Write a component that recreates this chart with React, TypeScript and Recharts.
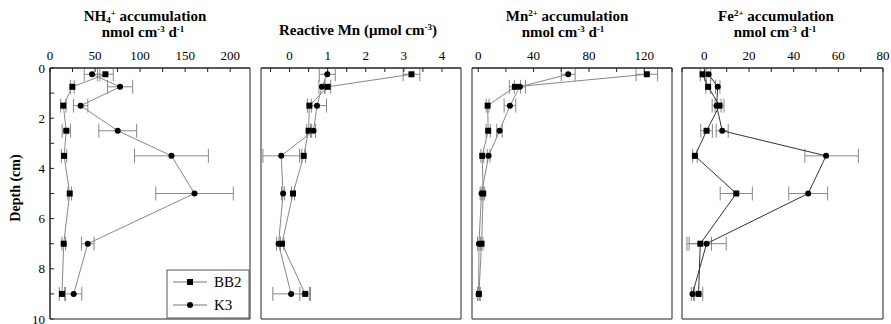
import React from 'react';
import { ScatterChart, Scatter, XAxis, YAxis, ErrorBar, ReferenceArea } from 'recharts';

// ---- data ----
const depths = [0.25, 0.75, 1.5, 2.5, 3.5, 5, 7, 9];
const seriesNames = ['BB2', 'K3'];

const nh4BB2 = [61.5, 24.8, 14.8, 18.1, 15.6, 21.9, 15.2, 13.3];
const nh4BB2Err = [8.7, 2, 3, 4.6, 3, 2, 2, 3];
const nh4K3 = [46.7, 77.8, 34, 75.2, 134.8, 160.4, 41.9, 26.3];
const nh4K3Err = [8.7, 14, 8, 21, 41, 43, 7, 9];

const mnRBB2 = [3.2, 1.0, 0.52, 0.5, 0.37, 0.09, -0.2, 0.41];
const mnRBB2Err = [0.22, 0.08, 0.05, 0.05, 0.05, 0.04, 0.05, 0.14];
const mnRK3 = [0.99, 0.85, 0.72, 0.63, -0.22, -0.17, -0.29, 0.04];
const mnRK3Err = [0.21, 0.08, 0.25, 0.05, 0.48, 0.04, 0.05, 0.48];

const mn2BB2 = [121.8, 26.5, 6.8, 7.2, 2.9, 3.6, 2.4, 0.5];
const mn2BB2Err = [7.8, 4, 1, 1.5, 1, 1, 1, 1];
const mn2K3 = [65, 30.1, 22.9, 15.4, 7.5, 2.4, 0.5, 0.3];
const mn2K3Err = [5, 4, 4.2, 2, 1, 1, 1, 0.5];

const fe2BB2 = [-0.8, 1.7, 6.8, 1.0, -4.2, 14.3, -1.8, -2.6];
const fe2BB2Err = [1, 1, 2, 2.6, 1, 7.2, 5, 1.9];
const fe2K3 = [1.9, 6.0, 5.5, 8.0, 54.5, 46.5, 1.0, -5.3];
const fe2K3Err: (number | number[])[] = [1, 1, 2, 2.7, [9.5, 14.5], 8.7, 8.8, 0.5];

// ticks
const depthTicks = [0, 1, 2, 3, 4, 5, 6, 7, 8, 9, 10];
const depthLabels = [0, 2, 4, 6, 8, 10];
const nh4Ticks = [0, 25, 50, 75, 100, 125, 150, 175, 200];
const nh4Labels = [0, 50, 100, 150, 200];
const mnRTicks = [-0.5, 0, 0.5, 1, 1.5, 2, 2.5, 3, 3.5, 4];
const mnRLabels = [0, 1, 2, 3, 4];
const mn2Ticks = [0, 20, 40, 60, 80, 100, 120, 140];
const mn2Labels = [0, 40, 80, 120];
const fe2Ticks = [-10, 0, 10, 20, 30, 40, 50, 60, 70, 80];
const fe2Labels = [0, 20, 40, 60, 80];

const W = 891;
const H = 324;
const FONT = '"Liberation Serif", "Times New Roman", serif';

const build = (vals: number[], errs: any[]) =>
  depths.map((d, i) => ({ depth: d, x: vals[i], err: errs[i] }));

const SquareShape = (props: any) => {
  const { cx, cy } = props;
  if (cx == null || cy == null) return null;
  return <rect x={cx - 3} y={cy - 3} width={6} height={6} fill="#000" />;
};
const CircleShape = (props: any) => {
  const { cx, cy } = props;
  if (cx == null || cy == null) return null;
  return <circle cx={cx} cy={cy} r={3} fill="#000" />;
};

type PanelProps = {
  left: number;
  right: number;
  domain: [number, number];
  ticks: number[];
  labels: number[];
  bb2: any[];
  k3: any[];
  showY: boolean;
  lineColor: string;
};

const Panel = ({ left, right, domain, ticks, labels, bb2, k3, showY, lineColor }: PanelProps) => {
  const yw = showY ? 20 : 0;
  return (
    <div style={{ position: 'absolute', left: 0, top: 0, fontFamily: FONT }}>
      <ScatterChart
        width={W}
        height={H}
        style={{ fontFamily: FONT }}
        margin={{ top: 48, bottom: 5, left: left - yw, right: W - right }}
      >
        <XAxis
          type="number"
          dataKey="x"
          orientation="top"
          height={20}
          domain={domain}
          allowDataOverflow
          ticks={ticks}
          interval={0}
          tickSize={-4}
          tickMargin={12}
          tickFormatter={(v: number) => (labels.includes(v) ? String(v) : '')}
          tick={{ fill: '#000', fontSize: 13, fontFamily: FONT }}
          axisLine={{ stroke: '#222' }}
          tickLine={{ stroke: '#222' }}
        />
        <YAxis
          type="number"
          dataKey="depth"
          reversed
          width={yw}
          domain={[0, 10]}
          allowDataOverflow
          ticks={depthTicks}
          interval={0}
          tickSize={-4}
          tickMargin={9}
          tickFormatter={(v: number) => (showY && depthLabels.includes(v) ? String(v) : '')}
          tick={{ fill: '#000', fontSize: 13, fontFamily: FONT }}
          axisLine={{ stroke: '#222' }}
          tickLine={{ stroke: '#222' }}
        />
        <ReferenceArea
          x1={domain[0]}
          x2={domain[1]}
          y1={0}
          y2={10}
          fill="none"
          stroke="#222"
          strokeWidth={1}
          ifOverflow="visible"
        />
        <Scatter
          name={seriesNames[0]}
          data={bb2}
          shape={SquareShape}
          line={{ stroke: lineColor, strokeWidth: 1 }}
          isAnimationActive={false}
        >
          <ErrorBar dataKey="err" direction="x" width={7} stroke="#888" strokeWidth={1} />
        </Scatter>
        <Scatter
          name={seriesNames[1]}
          data={k3}
          shape={CircleShape}
          line={{ stroke: lineColor, strokeWidth: 1 }}
          isAnimationActive={false}
        >
          <ErrorBar dataKey="err" direction="x" width={7} stroke="#888" strokeWidth={1} />
        </Scatter>
      </ScatterChart>
    </div>
  );
};

const sup = { baselineShift: 'super', fontSize: 9 } as any;
const sub = { baselineShift: '-2', fontSize: 9 } as any;

const Overlay = () => (
  <svg
    width={W}
    height={H}
    style={{ position: 'absolute', left: 0, top: 0, pointerEvents: 'none', fontFamily: FONT }}
  >
    <g fontWeight="bold" fontSize={15} fill="#000" textAnchor="middle">
      <text x={145} y={21}>
        NH<tspan style={sub}>4</tspan>
        <tspan style={sup}>+</tspan> accumulation
      </text>
      <text x={143} y={37}>
        nmol cm<tspan style={sup}>-3</tspan> d<tspan style={sup}>-1</tspan>
      </text>
      <text x={358} y={35}>
        Reactive Mn (μmol cm<tspan style={sup}>-3</tspan>)
      </text>
      <text x={567} y={21}>
        Mn<tspan style={sup}>2+</tspan> accumulation
      </text>
      <text x={563} y={37}>
        nmol cm<tspan style={sup}>-3</tspan> d<tspan style={sup}>-1</tspan>
      </text>
      <text x={776} y={21}>
        Fe<tspan style={sup}>2+</tspan> accumulation
      </text>
      <text x={775} y={37}>
        nmol cm<tspan style={sup}>-3</tspan> d<tspan style={sup}>-1</tspan>
      </text>
      <text x={20} y={188} fontSize={14} transform="rotate(-90 20 188)">
        Depth (cm)
      </text>
    </g>
    <g>
      <rect x={167} y={270} width={82} height={48} fill="#fff" stroke="#555" strokeWidth={1} />
      <line x1={173} x2={207} y1={282} y2={282} stroke="#777" />
      <rect x={187} y={279} width={6} height={6} fill="#000" />
      <text x={214} y={287} fontSize={15} fill="#000">{seriesNames[0]}</text>
      <line x1={173} x2={207} y1={305} y2={305} stroke="#777" />
      <circle cx={190} cy={305} r={3} fill="#000" />
      <text x={214} y={310} fontSize={15} fill="#000">{seriesNames[1]}</text>
    </g>
  </svg>
);

export default function App() {
  return (
    <div style={{ position: 'absolute', left: 0, top: 0, width: W, height: H, background: '#fff', fontFamily: FONT }}>
      <Panel left={50} right={250} domain={[0, 222]} ticks={nh4Ticks} labels={nh4Labels}
        bb2={build(nh4BB2, nh4BB2Err)} k3={build(nh4K3, nh4K3Err)} showY lineColor="#888" />
      <Panel left={261} right={461} domain={[-0.75, 4.5]} ticks={mnRTicks} labels={mnRLabels}
        bb2={build(mnRBB2, mnRBB2Err)} k3={build(mnRK3, mnRK3Err)} showY={false} lineColor="#888" />
      <Panel left={472} right={672} domain={[-4.5, 140]} ticks={mn2Ticks} labels={mn2Labels}
        bb2={build(mn2BB2, mn2BB2Err)} k3={build(mn2K3, mn2K3Err)} showY={false} lineColor="#888" />
      <Panel left={682} right={883} domain={[-10, 80]} ticks={fe2Ticks} labels={fe2Labels}
        bb2={build(fe2BB2, fe2BB2Err)} k3={build(fe2K3, fe2K3Err)} showY={false} lineColor="#333" />
      <Overlay />
    </div>
  );
}
